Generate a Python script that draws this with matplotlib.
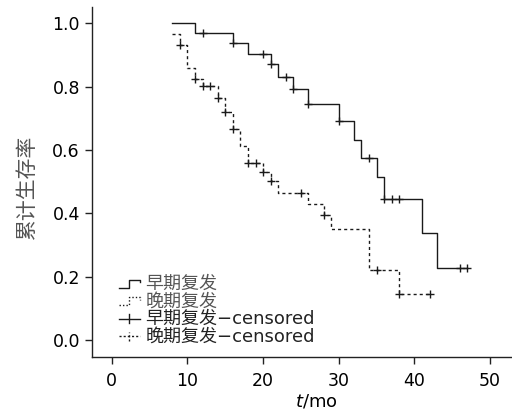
import numpy as np
import matplotlib
matplotlib.use("Agg")
import matplotlib.pyplot as plt
from matplotlib.legend_handler import HandlerBase
from matplotlib.lines import Line2D

plt.rcParams['font.family'] = ['DejaVu Sans', 'Noto Sans CJK SC']
plt.rcParams['mathtext.fontset'] = 'dejavusans'

# ---- data ----
early_times = [8, 11, 16, 18, 21, 22, 24, 26, 30, 32, 33, 35, 36, 41, 43]
early_surv = [1.0, 0.970, 0.938, 0.905, 0.873, 0.832, 0.793, 0.745, 0.692,
              0.631, 0.574, 0.514, 0.446, 0.337, 0.226]
early_end = 47
early_censored = [12, 16, 20, 21, 23, 24, 26, 30, 34, 36, 37, 38, 46, 47]

late_times = [8, 9, 10, 11, 12, 14, 15, 16, 17, 18, 20, 21, 22, 26, 28, 29, 34, 38]
late_surv = [0.966, 0.932, 0.858, 0.823, 0.802, 0.763, 0.719, 0.668, 0.614,
             0.558, 0.531, 0.501, 0.465, 0.429, 0.395, 0.350, 0.220, 0.146]
late_end = 42
late_censored = [9, 11, 12, 13, 14, 15, 16, 18, 19, 20, 21, 25, 28, 35, 38, 42]

labels = ['早期复发', '晚期复发', '早期复发−censored', '晚期复发−censored']
x_ticks = [0, 10, 20, 30, 40, 50]
y_ticks = [0.0, 0.2, 0.4, 0.6, 0.8, 1.0]


def surv_at(times, surv, t):
    idx = np.searchsorted(np.asarray(times), t, side='right') - 1
    return np.asarray(surv)[idx]


W, H = 512, 415
fig = plt.figure(figsize=(W / 100, H / 100), dpi=100)
ax = fig.add_axes([91.7 / W, 58.3 / H, (W - 91.7) / W, (408 - 58.3) / H])

dash = (0, (2.2, 2.2))
LC = '#1a1a1a'
ax.step(early_times + [early_end], early_surv + [early_surv[-1]], where='post',
        color=LC, lw=1.0)
ax.step(late_times + [late_end], late_surv + [late_surv[-1]], where='post',
        color=LC, lw=1.0, linestyle=dash)
ax.plot(early_censored, surv_at(early_times, early_surv, early_censored),
        linestyle='none', marker='+', ms=6, mew=1.0, color=LC)
ax.plot(late_censored, surv_at(late_times, late_surv, late_censored),
        linestyle='none', marker='+', ms=6, mew=1.0, color=LC)

ax.set_xlim(-2.65, 52.9)
ax.set_ylim(-0.053, 1.052)
ax.set_xticks(x_ticks)
ax.set_yticks(y_ticks)
ax.set_yticklabels([f'{v:.1f}' for v in y_ticks])
for s in ['top', 'right']:
    ax.spines[s].set_visible(False)
for s in ['left', 'bottom']:
    ax.spines[s].set_color('#222222')
    ax.spines[s].set_linewidth(1.0)
ax.tick_params(axis='both', length=5, width=1.0, color='#222222',
               labelsize=12.5, labelcolor='black')
ax.tick_params(axis='x', pad=6)
ax.tick_params(axis='y', pad=3.5)

ax.set_xlabel('$t$/mo', fontsize=13, va='center')
ax.xaxis.set_label_coords(0.534, -0.1295)
ax.set_ylabel('累计生存率', fontsize=15, color='#555555', va='center')
ax.yaxis.set_label_coords(-0.154, 0.485)


class StepHandler(HandlerBase):
    def __init__(self, ls):
        super().__init__()
        self.ls = ls

    def create_artists(self, legend, orig_handle, xd, yd, width, height, fontsize, trans):
        lo, hi = -yd + 0.1 * height, -yd + 0.75 * height
        xs = [-xd, -xd + 0.5 * width, -xd + 0.5 * width, -xd + width, -xd + width]
        ys = [lo, lo, hi, hi, hi - 0.2 * height]
        ln = Line2D(xs, ys, color=LC, lw=1.0, linestyle=self.ls, transform=trans)
        return [ln]


class PlusHandler(HandlerBase):
    def __init__(self, ls):
        super().__init__()
        self.ls = ls

    def create_artists(self, legend, orig_handle, xd, yd, width, height, fontsize, trans):
        yc = -yd + 0.45 * height
        h = Line2D([-xd, -xd + width], [yc, yc], color=LC, lw=1.0,
                   linestyle=self.ls, transform=trans)
        v = Line2D([-xd + 0.5 * width] * 2, [yc - 0.35 * height, yc + 0.35 * height],
                   color=LC, lw=1.0, linestyle=self.ls, transform=trans)
        return [h, v]


handles = [Line2D([], []), Line2D([], []), Line2D([], []), Line2D([], [])]
hmap = {handles[0]: StepHandler('-'), handles[1]: StepHandler((0, (1, 1.5))),
        handles[2]: PlusHandler('-'), handles[3]: PlusHandler((0, (1.5, 1.5)))}
leg = ax.legend(handles, labels, handler_map=hmap, frameon=False, fontsize=13,
                loc='upper left', bbox_to_anchor=(119 / W, 1 - 275 / H),
                bbox_transform=fig.transFigure, borderpad=0, borderaxespad=0,
                handlelength=1.15, handletextpad=0.3, labelspacing=-0.02)
for i, t in enumerate(leg.get_texts()):
    t.set_color('#555555' if i < 2 else '#222222')

fig.savefig('out.png', dpi=100)
